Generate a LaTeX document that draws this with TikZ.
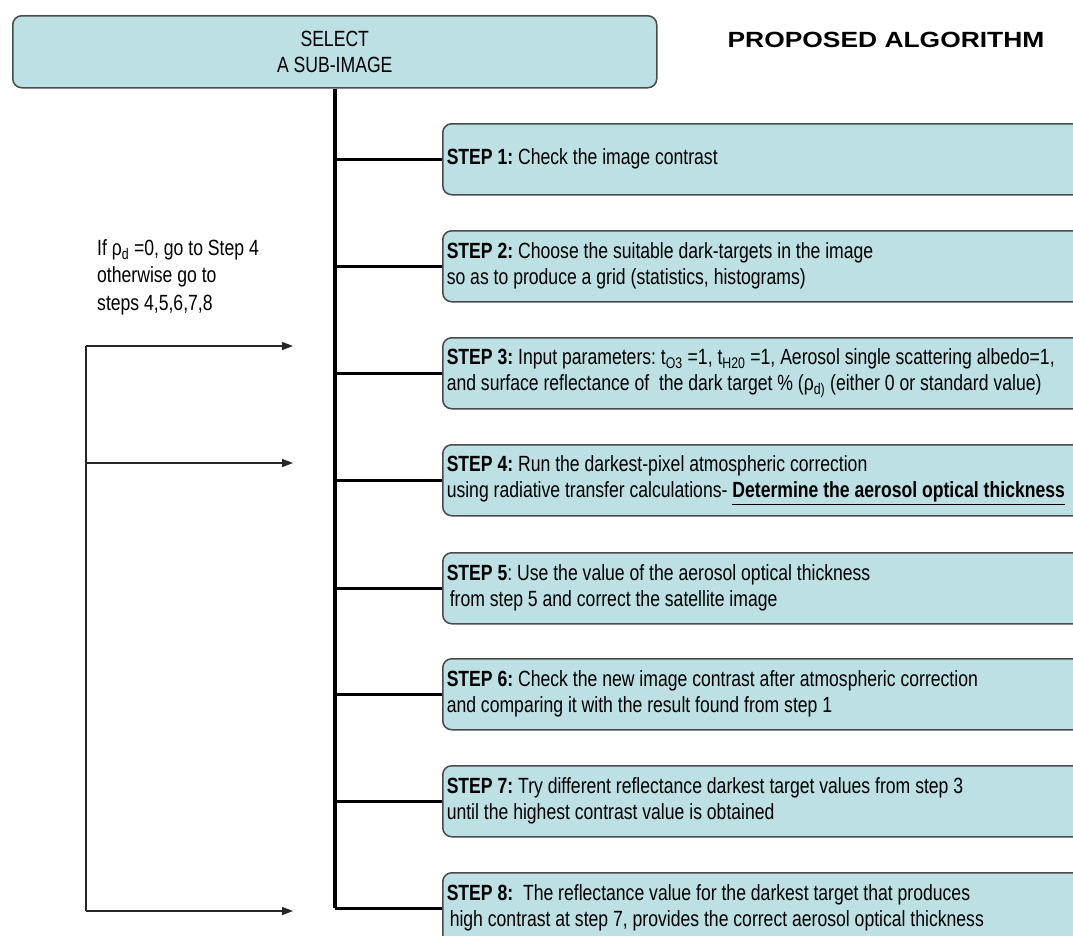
\documentclass[tikz,border=0pt]{standalone}
\usepackage{fontspec}
\setmainfont{Liberation Sans}[FakeStretch=0.8]
\newfontfamily\titlefont{Liberation Sans}[FakeStretch=1.2]
\usetikzlibrary{arrows.meta}
\definecolor{boxfill}{HTML}{BCE0E3}
\definecolor{boxline}{HTML}{4A4A4A}
\tikzset{
  bodyfont/.style={font=\fontsize{22}{26}\selectfont\frenchspacing},
  stepbox/.style={draw=boxline, line width=1.5pt, fill=boxfill, rounded corners=9pt,
    anchor=north west, minimum height=71pt, text width=692pt, inner xsep=4pt,
    align=left, bodyfont,
    execute at begin node={\spaceskip=0pt\relax\xspaceskip=0pt\relax}},
  topbox/.style={draw=boxline, line width=1.5pt, fill=boxfill, rounded corners=9pt,
    anchor=north west, minimum width=644pt, minimum height=72pt, align=center, bodyfont},
  conn/.style={line width=3.5pt, black},
  arr/.style={line width=1.4pt, black!85, -{Triangle[length=11pt,width=8pt]}},
  plain/.style={line width=1.4pt, black!85}
}
\begin{document}
\begin{tikzpicture}[x=1pt,y=-1pt]
\useasboundingbox (0,0) rectangle (1073,935);
\clip (0,0) rectangle (1073,935);
\fill[white] (0,0) rectangle (1073,935);

\node[topbox] (top) at (12,15) {SELECT\\A SUB-IMAGE};
\node[font=\titlefont\bfseries\fontsize{22}{26}\selectfont, inner sep=0pt] (title) at (886,40) {PROPOSED ALGORITHM};

\node[stepbox] (s1) at (442,123) {\textbf{STEP 1:} Check the image contrast};
\node[stepbox] (s2) at (442,230) {\textbf{STEP 2:} Choose the suitable dark-targets in the image\\so as to produce a grid (statistics, histograms)};
\node[stepbox] (s3) at (442,337) {\textbf{STEP 3:} Input parameters: t\textsubscript{O3} =1, t\textsubscript{H20} =1, Aerosol single scattering albedo=1,\\and surface reflectance of~ the dark target \% (ρ\textsubscript{d)} (either 0 or standard value)};
\node[stepbox] (s4) at (442,444) {\textbf{STEP 4:} Run the darkest-pixel atmospheric correction\\using radiative transfer calculations- \textbf{\underline{Determine the aerosol optical thickness}}};
\node[stepbox] (s5) at (442,552) {\textbf{STEP 5}: Use the value of the aerosol optical thickness\\\hspace*{3pt}from step 5 and correct the satellite image};
\node[stepbox] (s6) at (442,658) {\textbf{STEP 6:} Check the new image contrast after atmospheric correction\\and comparing it with the result found from step 1};
\node[stepbox] (s7) at (442,765) {\textbf{STEP 7:} Try different reflectance darkest target values from step 3\\until the highest contrast value is obtained};
\node[stepbox] (s8) at (442,872) {\textbf{STEP 8:}~ The reflectance value for the darkest target that produces\\\hspace*{3pt}high contrast at step 7, provides the correct aerosol optical thickness};

\draw[conn] (top.south) -- (top.south |- s8.west);
\foreach \s in {s1,s2,s3,s4,s5,s6,s7,s8}
  \draw[conn] (top.south |- \s.west) -- (\s.west);

\node[font=\fontsize{22}{27.5}\selectfont\frenchspacing, align=left, anchor=west, inner sep=0pt] (note) at (97,277)
  {If ρ\textsubscript{d} =0, go to Step 4\\otherwise go to\\steps 4,5,6,7,8};

\coordinate (a1s) at (86,346);
\coordinate (a1e) at (293,346);
\coordinate (a2s) at (86,463);
\coordinate (a2e) at (293,463);
\coordinate (a3s) at (86,911);
\coordinate (a3e) at (293,911);
\draw[plain] (a3s) -- (a1s);
\draw[arr] (a1s) -- (a1e);
\draw[arr] (a2s) -- (a2e);
\draw[arr] (a3s) -- (a3e);
\end{tikzpicture}
\end{document}
